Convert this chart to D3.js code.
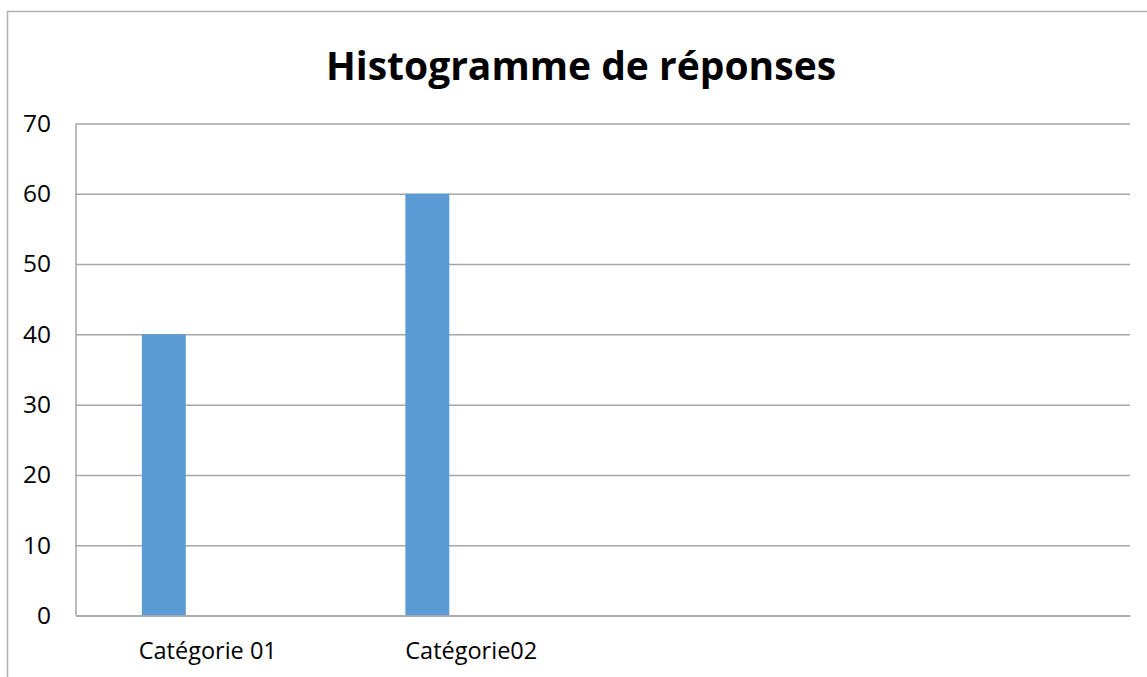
<!DOCTYPE html>
<html>
<head>
<meta charset="utf-8">
<script src="https://cdn.jsdelivr.net/npm/d3@7"></script>
<style>
  body { margin: 0; background: #fff; }
  svg { display: block; font-family: "Open Sans", sans-serif; }
</style>
</head>
<body>
<div id="chart"></div>
<script>
// data
const categories = ["Catégorie 01", "Catégorie02", "", ""];
const seriesNames = ["Série 1", "Série 2", "Série 3"];
const serie1 = [40, 60, null, null];
const serie2 = [null, null, null, null];
const serie3 = [null, null, null, null];
const yTicks = [0, 10, 20, 30, 40, 50, 60, 70];

const W = 1147, H = 677;
const margin = {top: 123.5, right: 17, bottom: 61.5, left: 76};
const width = W - margin.left - margin.right;
const height = H - margin.top - margin.bottom;

const root = d3.select("#chart")
    .append("svg")
    .attr("width", W)
    .attr("height", H);

// chart frame
root.append("rect")
    .attr("x", 7.5)
    .attr("y", 11.5)
    .attr("width", 1160)
    .attr("height", 700)
    .attr("fill", "none")
    .attr("stroke", "#b0b0b0")
    .attr("stroke-width", 1.5);

// title
root.append("text")
    .attr("x", 581)
    .attr("y", 80)
    .attr("text-anchor", "middle")
    .style("font-weight", "bold")
    .style("font-size", "39px")
    .text("Histogramme de réponses");

const svg = root.append("g")
    .attr("transform", `translate(${margin.left}, ${margin.top})`);

const table = categories.map((c, i) => ({
  index: i,
  values: [serie1[i], serie2[i], serie3[i]]
}));

const x0 = d3.scaleBand()
    .domain(d3.range(categories.length))
    .range([0, width]);

const x1 = d3.scaleBand()
    .domain(d3.range(seriesNames.length))
    .range([0, x0.bandwidth()])
    .paddingOuter(1.5);

const y = d3.scaleLinear()
    .domain([0, 70])
    .range([height, 0]);

// gridlines
svg.append("g")
    .call(d3.axisLeft(y).tickValues(yTicks).tickSize(-width).tickFormat(""))
    .call(g => g.select(".domain").remove())
    .call(g => g.selectAll(".tick line").attr("stroke", "#a6a6a6").attr("stroke-width", 1.5));

// left border of plot
svg.append("line")
    .attr("x1", 0).attr("x2", 0)
    .attr("y1", 0).attr("y2", height)
    .attr("stroke", "#a6a6a6")
    .attr("stroke-width", 1.5);

// Y labels
svg.append("g")
    .call(d3.axisLeft(y).tickValues(yTicks).tickSize(0).tickPadding(25))
    .call(g => g.select(".domain").remove())
    .call(g => g.selectAll("text").style("font-size", "24.5px").attr("fill", "#000").style("font-family", "Open Sans"));

// bars
const groups = svg.selectAll("g.cat")
    .data(table)
    .join("g")
    .attr("class", "cat")
    .attr("transform", d => `translate(${x0(d.index)}, 0)`);

groups.selectAll("rect")
    .data(d => d.values.map((v, s) => ({s: s, v: v})).filter(e => e.v != null))
    .join("rect")
    .attr("x", e => x1(e.s))
    .attr("width", x1.bandwidth())
    .attr("y", e => y(e.v))
    .attr("height", e => y(0) - y(e.v))
    .attr("fill", "#5b9bd5");

// X axis
svg.append("g")
    .attr("transform", `translate(0, ${height})`)
    .call(d3.axisBottom(x0).tickSize(0).tickPadding(27).tickFormat(i => categories[i]))
    .call(g => g.select(".domain").attr("stroke", "#a6a6a6").attr("stroke-width", 1.5))
    .call(g => g.selectAll("text").style("font-size", "23.5px").attr("fill", "#000").style("font-family", "Open Sans"));
</script>
</body>
</html>
